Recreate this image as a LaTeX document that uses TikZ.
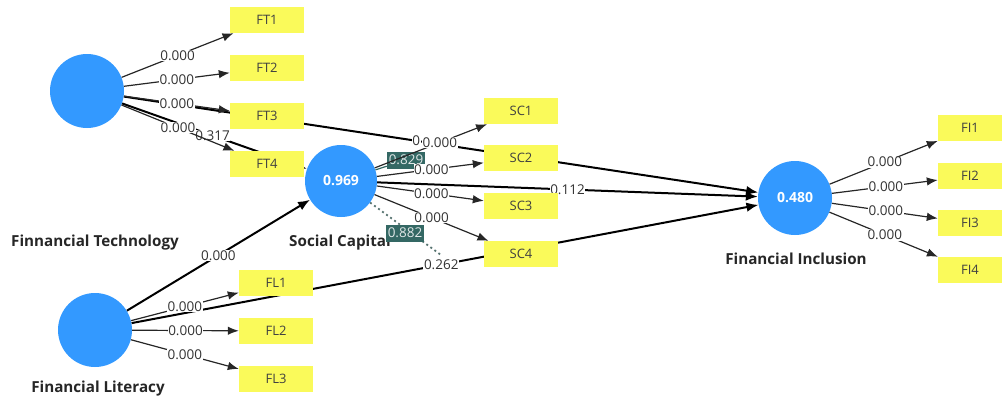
\documentclass[tikz,border=0pt]{standalone}
\usepackage{fontspec}
\setmainfont{Open Sans}
\usetikzlibrary{arrows.meta,backgrounds}
\definecolor{cblue}{RGB}{51,153,255}
\definecolor{cyel}{RGB}{250,250,90}
\definecolor{cteal}{RGB}{52,104,100}
\begin{document}
\begin{tikzpicture}[x=1pt,y=-1pt,
 lv/.style={circle,fill=cblue,minimum size=74pt,inner sep=0pt,text=white,font=\fontsize{14}{14}\selectfont\bfseries},
 ind/.style={rectangle,fill=cyel,minimum width=74pt,minimum height=26pt,inner sep=0pt,text=black!75,font=\fontsize{13}{13}\selectfont},
 load/.style={-{Latex[length=11pt,width=8.5pt]},line width=1.2pt,draw=black!85},
 pth/.style={-{Latex[length=12pt,width=9.5pt]},line width=2pt,draw=black},
 lbl/.style={fill=white,inner sep=0.6pt,text=black!80,font=\fontsize{13.5}{14}\selectfont},
 lvname/.style={font=\fontsize{15.2}{16}\selectfont\bfseries,text=black!85},
 callout/.style={fill=cteal,text=white!85!cteal,inner sep=1pt,minimum width=38pt,minimum height=17pt,font=\fontsize{13.5}{14}\selectfont}]
\useasboundingbox (0,0) rectangle (1003,399);

% latent variables
\node[lv] (ft) at (87,91) {};
\node[lv,minimum size=72pt] (sc) at (341,181) {0.969};
\node[lv] (fl) at (95,330) {};
\node[lv] (fi) at (795,198) {0.480};

% indicators
\node[ind] (ft1) at (267,20) {FT1};
\node[ind] (ft2) at (267,68) {FT2};
\node[ind] (ft3) at (267,116) {FT3};
\node[ind] (ft4) at (267,164) {FT4};
\node[ind] (sc1) at (521,111) {SC1};
\node[ind] (sc2) at (521,158) {SC2};
\node[ind] (sc3) at (521,206) {SC3};
\node[ind] (sc4) at (521,254) {SC4};
\node[ind] (fl1) at (276,283) {FL1};
\node[ind] (fl2) at (276,331) {FL2};
\node[ind] (fl3) at (276,379) {FL3};
\node[ind,minimum width=64pt] (fi1) at (970,128) {FI1};
\node[ind,minimum width=64pt] (fi2) at (970,176) {FI2};
\node[ind,minimum width=64pt] (fi3) at (970,223) {FI3};
\node[ind,minimum width=64pt] (fi4) at (970,270) {FI4};

% names
\node[lvname] (nft) at (95,243) {Finnancial Technology};
\node[lvname] (nsc) at (340,243) {Social Capital};
\node[lvname] (nfl) at (98,389) {Financial Literacy};
\node[lvname] (nfi) at (796,259) {Financial Inclusion};

% structural paths (behind boxes)
\coordinate (dotend) at (441,255);
\begin{pgfonlayer}{background}
\draw[pth] (ft) -- node[lbl,pos=0.49] (l1) {0.317} (sc);
\draw[pth] (ft) -- node[lbl,pos=0.461] (l2) {0} (fi);
\draw[pth] (fl) -- node[lbl,pos=0.5] (l3) {0.000} (sc);
\draw[pth] (fl) -- node[lbl,pos=0.494] (l4) {0.262} (fi);
\draw[pth] (sc) -- node[lbl,pos=0.5] (l5) {0.112} (fi);
\draw[dash pattern=on 2pt off 3pt,line width=1.8pt,draw=cteal!55!gray] (sc) -- (dotend);
\end{pgfonlayer}

% callouts
\node[callout] (c829) at (406,160) {0.829};
\node[callout] (c882) at (405,233) {0.882};
\draw[cteal,line width=1.2pt] (sc) -- (c829);

% loadings
\draw[load] (ft) -- node[lbl,pos=0.5] {0.000} (ft1);
\draw[load] (ft) -- node[lbl,pos=0.5] {0.000} (ft2);
\draw[load] (ft) -- node[lbl,pos=0.5] {0.000} (ft3);
\draw[load] (ft) -- node[lbl,pos=0.5] {0.000} (ft4);
\draw[load] (sc) -- node[lbl,pos=0.58] {0.000} (sc1);
\draw[load] (sc) -- node[lbl,pos=0.51] {0.000} (sc2);
\draw[load] (sc) -- node[lbl,pos=0.51] {0.000} (sc3);
\draw[load] (sc) -- node[lbl,pos=0.5] {0.000} (sc4);
\draw[load] (fl) -- node[lbl,pos=0.5] {0.000} (fl1);
\draw[load] (fl) -- node[lbl,pos=0.5] {0.000} (fl2);
\draw[load] (fl) -- node[lbl,pos=0.5] {0.000} (fl3);
\draw[load] (fi) -- node[lbl,pos=0.51] {0.000} (fi1);
\draw[load] (fi) -- node[lbl,pos=0.51] {0.000} (fi2);
\draw[load] (fi) -- node[lbl,pos=0.51] {0.000} (fi3);
\draw[load] (fi) -- node[lbl,pos=0.51] {0.000} (fi4);
\end{tikzpicture}
\end{document}
